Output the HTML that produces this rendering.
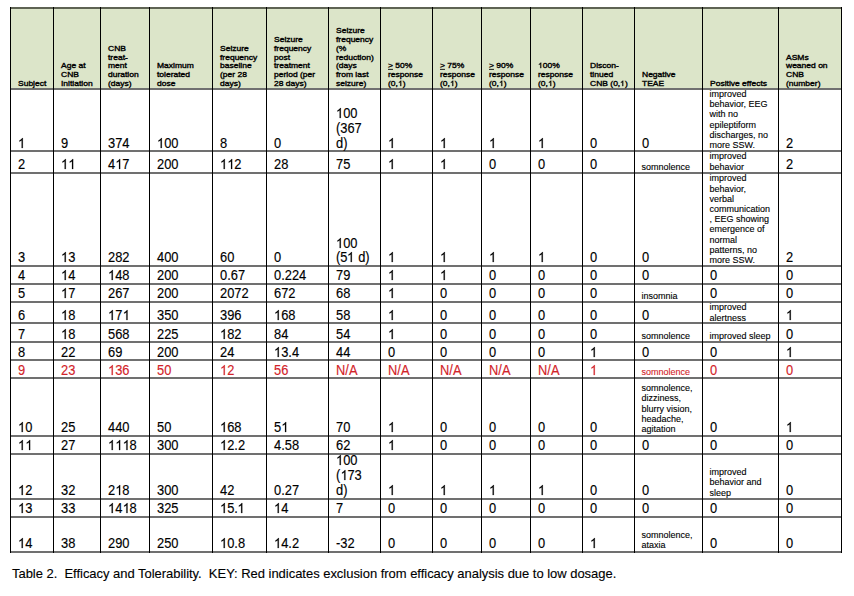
<!DOCTYPE html>
<html><head><meta charset="utf-8"><style>
html,body{margin:0;padding:0;width:854px;height:596px;overflow:hidden;background:#fff}
body{position:relative;font-family:"Liberation Sans",sans-serif;color:#000}
.r{position:absolute}
.t{position:absolute;white-space:pre}
.b{transform:scaleX(0.92);transform-origin:0 0;-webkit-text-stroke:0.15px currentColor}
.h{-webkit-text-stroke:0.4px #000;transform:scaleY(0.88);transform-origin:0 7px}
.s{-webkit-text-stroke:0.12px currentColor}
u{text-decoration:underline}
.one{width:0.5562em;height:0.7188em;vertical-align:baseline;fill:currentColor;stroke:currentColor;stroke-width:30;overflow:visible}
.h .one{stroke-width:90}
</style></head><body>
<div class="r" style="left:10px;top:7px;width:832px;height:82px;background:#dce5c9"></div>
<div class="r" style="left:10px;top:7px;width:832px;height:2px;background:#5e6353"></div>
<div class="r" style="left:10px;top:88px;width:832px;height:2px;background:#707070"></div>
<div class="r" style="left:10px;top:150px;width:832px;height:2px;background:#707070"></div>
<div class="r" style="left:10px;top:172px;width:832px;height:2px;background:#707070"></div>
<div class="r" style="left:10px;top:265px;width:832px;height:2px;background:#707070"></div>
<div class="r" style="left:10px;top:283px;width:832px;height:2px;background:#707070"></div>
<div class="r" style="left:10px;top:301px;width:832px;height:2px;background:#707070"></div>
<div class="r" style="left:10px;top:322px;width:832px;height:2px;background:#707070"></div>
<div class="r" style="left:10px;top:341px;width:832px;height:2px;background:#707070"></div>
<div class="r" style="left:10px;top:359px;width:832px;height:2px;background:#707070"></div>
<div class="r" style="left:10px;top:377px;width:832px;height:2px;background:#707070"></div>
<div class="r" style="left:10px;top:435px;width:832px;height:2px;background:#707070"></div>
<div class="r" style="left:10px;top:453px;width:832px;height:2px;background:#707070"></div>
<div class="r" style="left:10px;top:498px;width:832px;height:2px;background:#707070"></div>
<div class="r" style="left:10px;top:516px;width:832px;height:2px;background:#707070"></div>
<div class="r" style="left:10px;top:551px;width:832px;height:2px;background:#707070"></div>
<div class="r" style="left:10px;top:7px;width:1px;height:546px;background:#000"></div>
<div class="r" style="left:53px;top:7px;width:1px;height:546px;background:#000"></div>
<div class="r" style="left:100px;top:7px;width:1px;height:546px;background:#000"></div>
<div class="r" style="left:149px;top:7px;width:1px;height:546px;background:#000"></div>
<div class="r" style="left:212px;top:7px;width:1px;height:546px;background:#000"></div>
<div class="r" style="left:266px;top:7px;width:1px;height:546px;background:#000"></div>
<div class="r" style="left:328px;top:7px;width:1px;height:546px;background:#000"></div>
<div class="r" style="left:380px;top:7px;width:1px;height:546px;background:#000"></div>
<div class="r" style="left:432px;top:7px;width:1px;height:546px;background:#000"></div>
<div class="r" style="left:481px;top:7px;width:1px;height:546px;background:#000"></div>
<div class="r" style="left:530px;top:7px;width:1px;height:546px;background:#000"></div>
<div class="r" style="left:582px;top:7px;width:1px;height:546px;background:#000"></div>
<div class="r" style="left:634px;top:7px;width:1px;height:546px;background:#000"></div>
<div class="r" style="left:702px;top:7px;width:1px;height:546px;background:#000"></div>
<div class="r" style="left:778px;top:7px;width:1px;height:546px;background:#000"></div>
<div class="r" style="left:841px;top:7px;width:1px;height:546px;background:#000"></div>
<div class="t h" style="left:18px;top:79px;font-size:8.5px;line-height:9px">Subject</div>
<div class="t h" style="left:61px;top:61px;font-size:8.5px;line-height:9px">Age at</div>
<div class="t h" style="left:61px;top:70px;font-size:8.5px;line-height:9px">CNB</div>
<div class="t h" style="left:61px;top:79px;font-size:8.5px;line-height:9px">Initiation</div>
<div class="t h" style="left:108px;top:44px;font-size:8.5px;line-height:9px">CNB</div>
<div class="t h" style="left:108px;top:53px;font-size:8.5px;line-height:9px">treat-</div>
<div class="t h" style="left:108px;top:61px;font-size:8.5px;line-height:9px">ment</div>
<div class="t h" style="left:108px;top:70px;font-size:8.5px;line-height:9px">duration</div>
<div class="t h" style="left:108px;top:79px;font-size:8.5px;line-height:9px">(days)</div>
<div class="t h" style="left:157px;top:61px;font-size:8.5px;line-height:9px">Maximum</div>
<div class="t h" style="left:157px;top:70px;font-size:8.5px;line-height:9px">tolerated</div>
<div class="t h" style="left:157px;top:79px;font-size:8.5px;line-height:9px">dose</div>
<div class="t h" style="left:220px;top:44px;font-size:8.5px;line-height:9px">Seizure</div>
<div class="t h" style="left:220px;top:53px;font-size:8.5px;line-height:9px">frequency</div>
<div class="t h" style="left:220px;top:61px;font-size:8.5px;line-height:9px">baseline</div>
<div class="t h" style="left:220px;top:70px;font-size:8.5px;line-height:9px">(per 28</div>
<div class="t h" style="left:220px;top:79px;font-size:8.5px;line-height:9px">days)</div>
<div class="t h" style="left:274px;top:35px;font-size:8.5px;line-height:9px">Seizure</div>
<div class="t h" style="left:274px;top:44px;font-size:8.5px;line-height:9px">frequency</div>
<div class="t h" style="left:274px;top:53px;font-size:8.5px;line-height:9px">post</div>
<div class="t h" style="left:274px;top:61px;font-size:8.5px;line-height:9px">treatment</div>
<div class="t h" style="left:274px;top:70px;font-size:8.5px;line-height:9px">period (per</div>
<div class="t h" style="left:274px;top:79px;font-size:8.5px;line-height:9px">28 days)</div>
<div class="t h" style="left:336px;top:26px;font-size:8.5px;line-height:9px">Seizure</div>
<div class="t h" style="left:336px;top:35px;font-size:8.5px;line-height:9px">frequency</div>
<div class="t h" style="left:336px;top:44px;font-size:8.5px;line-height:9px">(%</div>
<div class="t h" style="left:336px;top:53px;font-size:8.5px;line-height:9px">reduction)</div>
<div class="t h" style="left:336px;top:61px;font-size:8.5px;line-height:9px">(days</div>
<div class="t h" style="left:336px;top:70px;font-size:8.5px;line-height:9px">from last</div>
<div class="t h" style="left:336px;top:79px;font-size:8.5px;line-height:9px">seizure)</div>
<div class="t h" style="left:388px;top:61px;font-size:8.5px;line-height:9px"><u>&gt;</u> 50%</div>
<div class="t h" style="left:388px;top:70px;font-size:8.5px;line-height:9px">response</div>
<div class="t h" style="left:388px;top:79px;font-size:8.5px;line-height:9px">(0,<svg class="one" viewBox="0 -1472 1139 1472"><path d="M763 0L583 0L583-1147Q518-1085 413-1024Q308-963 223-934L223-1108Q375-1179 495-1280Q615-1381 665-1472L763-1472Z"/></svg>)</div>
<div class="t h" style="left:440px;top:61px;font-size:8.5px;line-height:9px"><u>&gt;</u> 75%</div>
<div class="t h" style="left:440px;top:70px;font-size:8.5px;line-height:9px">response</div>
<div class="t h" style="left:440px;top:79px;font-size:8.5px;line-height:9px">(0,<svg class="one" viewBox="0 -1472 1139 1472"><path d="M763 0L583 0L583-1147Q518-1085 413-1024Q308-963 223-934L223-1108Q375-1179 495-1280Q615-1381 665-1472L763-1472Z"/></svg>)</div>
<div class="t h" style="left:489px;top:61px;font-size:8.5px;line-height:9px"><u>&gt;</u> 90%</div>
<div class="t h" style="left:489px;top:70px;font-size:8.5px;line-height:9px">response</div>
<div class="t h" style="left:489px;top:79px;font-size:8.5px;line-height:9px">(0,<svg class="one" viewBox="0 -1472 1139 1472"><path d="M763 0L583 0L583-1147Q518-1085 413-1024Q308-963 223-934L223-1108Q375-1179 495-1280Q615-1381 665-1472L763-1472Z"/></svg>)</div>
<div class="t h" style="left:538px;top:61px;font-size:8.5px;line-height:9px"><svg class="one" viewBox="0 -1472 1139 1472"><path d="M763 0L583 0L583-1147Q518-1085 413-1024Q308-963 223-934L223-1108Q375-1179 495-1280Q615-1381 665-1472L763-1472Z"/></svg>00%</div>
<div class="t h" style="left:538px;top:70px;font-size:8.5px;line-height:9px">response</div>
<div class="t h" style="left:538px;top:79px;font-size:8.5px;line-height:9px">(0,<svg class="one" viewBox="0 -1472 1139 1472"><path d="M763 0L583 0L583-1147Q518-1085 413-1024Q308-963 223-934L223-1108Q375-1179 495-1280Q615-1381 665-1472L763-1472Z"/></svg>)</div>
<div class="t h" style="left:590px;top:61px;font-size:8.5px;line-height:9px">Discon-</div>
<div class="t h" style="left:590px;top:70px;font-size:8.5px;line-height:9px">tinued</div>
<div class="t h" style="left:590px;top:79px;font-size:8.5px;line-height:9px">CNB (0,<svg class="one" viewBox="0 -1472 1139 1472"><path d="M763 0L583 0L583-1147Q518-1085 413-1024Q308-963 223-934L223-1108Q375-1179 495-1280Q615-1381 665-1472L763-1472Z"/></svg>)</div>
<div class="t h" style="left:642px;top:70px;font-size:8.5px;line-height:9px">Negative</div>
<div class="t h" style="left:642px;top:79px;font-size:8.5px;line-height:9px">TEAE</div>
<div class="t h" style="left:710px;top:79px;font-size:8.5px;line-height:9px">Positive effects</div>
<div class="t h" style="left:786px;top:53px;font-size:8.5px;line-height:9px">ASMs</div>
<div class="t h" style="left:786px;top:61px;font-size:8.5px;line-height:9px">weaned on</div>
<div class="t h" style="left:786px;top:70px;font-size:8.5px;line-height:9px">CNB</div>
<div class="t h" style="left:786px;top:79px;font-size:8.5px;line-height:9px">(number)</div>
<div class="t b" style="left:17.5px;top:136px;font-size:14px;line-height:15px"><svg class="one" viewBox="0 -1472 1139 1472"><path d="M763 0L583 0L583-1147Q518-1085 413-1024Q308-963 223-934L223-1108Q375-1179 495-1280Q615-1381 665-1472L763-1472Z"/></svg></div>
<div class="t b" style="left:60.5px;top:136px;font-size:14px;line-height:15px">9</div>
<div class="t b" style="left:107.5px;top:136px;font-size:14px;line-height:15px">374</div>
<div class="t b" style="left:156.5px;top:136px;font-size:14px;line-height:15px"><svg class="one" viewBox="0 -1472 1139 1472"><path d="M763 0L583 0L583-1147Q518-1085 413-1024Q308-963 223-934L223-1108Q375-1179 495-1280Q615-1381 665-1472L763-1472Z"/></svg>00</div>
<div class="t b" style="left:219.5px;top:136px;font-size:14px;line-height:15px">8</div>
<div class="t b" style="left:273.5px;top:136px;font-size:14px;line-height:15px">0</div>
<div class="t b" style="left:335.5px;top:106px;font-size:14px;line-height:15px"><svg class="one" viewBox="0 -1472 1139 1472"><path d="M763 0L583 0L583-1147Q518-1085 413-1024Q308-963 223-934L223-1108Q375-1179 495-1280Q615-1381 665-1472L763-1472Z"/></svg>00</div>
<div class="t b" style="left:335.5px;top:121px;font-size:14px;line-height:15px">(367</div>
<div class="t b" style="left:335.5px;top:136px;font-size:14px;line-height:15px">d)</div>
<div class="t b" style="left:387.5px;top:136px;font-size:14px;line-height:15px"><svg class="one" viewBox="0 -1472 1139 1472"><path d="M763 0L583 0L583-1147Q518-1085 413-1024Q308-963 223-934L223-1108Q375-1179 495-1280Q615-1381 665-1472L763-1472Z"/></svg></div>
<div class="t b" style="left:439.5px;top:136px;font-size:14px;line-height:15px"><svg class="one" viewBox="0 -1472 1139 1472"><path d="M763 0L583 0L583-1147Q518-1085 413-1024Q308-963 223-934L223-1108Q375-1179 495-1280Q615-1381 665-1472L763-1472Z"/></svg></div>
<div class="t b" style="left:488.5px;top:136px;font-size:14px;line-height:15px"><svg class="one" viewBox="0 -1472 1139 1472"><path d="M763 0L583 0L583-1147Q518-1085 413-1024Q308-963 223-934L223-1108Q375-1179 495-1280Q615-1381 665-1472L763-1472Z"/></svg></div>
<div class="t b" style="left:537.5px;top:136px;font-size:14px;line-height:15px"><svg class="one" viewBox="0 -1472 1139 1472"><path d="M763 0L583 0L583-1147Q518-1085 413-1024Q308-963 223-934L223-1108Q375-1179 495-1280Q615-1381 665-1472L763-1472Z"/></svg></div>
<div class="t b" style="left:589.5px;top:136px;font-size:14px;line-height:15px">0</div>
<div class="t b" style="left:641.5px;top:136px;font-size:14px;line-height:15px">0</div>
<div class="t s" style="left:709.5px;top:89px;font-size:9px;line-height:10px">improved</div>
<div class="t s" style="left:709.5px;top:99px;font-size:9px;line-height:10px">behavior, EEG</div>
<div class="t s" style="left:709.5px;top:109px;font-size:9px;line-height:10px">with no</div>
<div class="t s" style="left:709.5px;top:120px;font-size:9px;line-height:10px">epileptiform</div>
<div class="t s" style="left:709.5px;top:130px;font-size:9px;line-height:10px">discharges, no</div>
<div class="t s" style="left:709.5px;top:140px;font-size:9px;line-height:10px">more SSW.</div>
<div class="t b" style="left:785.5px;top:136px;font-size:14px;line-height:15px">2</div>
<div class="t b" style="left:17.5px;top:157px;font-size:14px;line-height:15px">2</div>
<div class="t b" style="left:60.5px;top:157px;font-size:14px;line-height:15px"><svg class="one" viewBox="0 -1472 1139 1472"><path d="M763 0L583 0L583-1147Q518-1085 413-1024Q308-963 223-934L223-1108Q375-1179 495-1280Q615-1381 665-1472L763-1472Z"/></svg><svg class="one" viewBox="0 -1472 1139 1472"><path d="M763 0L583 0L583-1147Q518-1085 413-1024Q308-963 223-934L223-1108Q375-1179 495-1280Q615-1381 665-1472L763-1472Z"/></svg></div>
<div class="t b" style="left:107.5px;top:157px;font-size:14px;line-height:15px">4<svg class="one" viewBox="0 -1472 1139 1472"><path d="M763 0L583 0L583-1147Q518-1085 413-1024Q308-963 223-934L223-1108Q375-1179 495-1280Q615-1381 665-1472L763-1472Z"/></svg>7</div>
<div class="t b" style="left:156.5px;top:157px;font-size:14px;line-height:15px">200</div>
<div class="t b" style="left:219.5px;top:157px;font-size:14px;line-height:15px"><svg class="one" viewBox="0 -1472 1139 1472"><path d="M763 0L583 0L583-1147Q518-1085 413-1024Q308-963 223-934L223-1108Q375-1179 495-1280Q615-1381 665-1472L763-1472Z"/></svg><svg class="one" viewBox="0 -1472 1139 1472"><path d="M763 0L583 0L583-1147Q518-1085 413-1024Q308-963 223-934L223-1108Q375-1179 495-1280Q615-1381 665-1472L763-1472Z"/></svg>2</div>
<div class="t b" style="left:273.5px;top:157px;font-size:14px;line-height:15px">28</div>
<div class="t b" style="left:335.5px;top:157px;font-size:14px;line-height:15px">75</div>
<div class="t b" style="left:387.5px;top:157px;font-size:14px;line-height:15px"><svg class="one" viewBox="0 -1472 1139 1472"><path d="M763 0L583 0L583-1147Q518-1085 413-1024Q308-963 223-934L223-1108Q375-1179 495-1280Q615-1381 665-1472L763-1472Z"/></svg></div>
<div class="t b" style="left:439.5px;top:157px;font-size:14px;line-height:15px"><svg class="one" viewBox="0 -1472 1139 1472"><path d="M763 0L583 0L583-1147Q518-1085 413-1024Q308-963 223-934L223-1108Q375-1179 495-1280Q615-1381 665-1472L763-1472Z"/></svg></div>
<div class="t b" style="left:488.5px;top:157px;font-size:14px;line-height:15px">0</div>
<div class="t b" style="left:537.5px;top:157px;font-size:14px;line-height:15px">0</div>
<div class="t b" style="left:589.5px;top:157px;font-size:14px;line-height:15px">0</div>
<div class="t s" style="left:641.5px;top:162px;font-size:9px;line-height:10px">somnolence</div>
<div class="t s" style="left:709.5px;top:151px;font-size:9px;line-height:10px">improved</div>
<div class="t s" style="left:709.5px;top:162px;font-size:9px;line-height:10px">behavior</div>
<div class="t b" style="left:785.5px;top:157px;font-size:14px;line-height:15px">2</div>
<div class="t b" style="left:17.5px;top:250px;font-size:14px;line-height:15px">3</div>
<div class="t b" style="left:60.5px;top:250px;font-size:14px;line-height:15px"><svg class="one" viewBox="0 -1472 1139 1472"><path d="M763 0L583 0L583-1147Q518-1085 413-1024Q308-963 223-934L223-1108Q375-1179 495-1280Q615-1381 665-1472L763-1472Z"/></svg>3</div>
<div class="t b" style="left:107.5px;top:250px;font-size:14px;line-height:15px">282</div>
<div class="t b" style="left:156.5px;top:250px;font-size:14px;line-height:15px">400</div>
<div class="t b" style="left:219.5px;top:250px;font-size:14px;line-height:15px">60</div>
<div class="t b" style="left:273.5px;top:250px;font-size:14px;line-height:15px">0</div>
<div class="t b" style="left:335.5px;top:236px;font-size:14px;line-height:15px"><svg class="one" viewBox="0 -1472 1139 1472"><path d="M763 0L583 0L583-1147Q518-1085 413-1024Q308-963 223-934L223-1108Q375-1179 495-1280Q615-1381 665-1472L763-1472Z"/></svg>00</div>
<div class="t b" style="left:335.5px;top:250px;font-size:14px;line-height:15px">(5<svg class="one" viewBox="0 -1472 1139 1472"><path d="M763 0L583 0L583-1147Q518-1085 413-1024Q308-963 223-934L223-1108Q375-1179 495-1280Q615-1381 665-1472L763-1472Z"/></svg> d)</div>
<div class="t b" style="left:387.5px;top:250px;font-size:14px;line-height:15px"><svg class="one" viewBox="0 -1472 1139 1472"><path d="M763 0L583 0L583-1147Q518-1085 413-1024Q308-963 223-934L223-1108Q375-1179 495-1280Q615-1381 665-1472L763-1472Z"/></svg></div>
<div class="t b" style="left:439.5px;top:250px;font-size:14px;line-height:15px"><svg class="one" viewBox="0 -1472 1139 1472"><path d="M763 0L583 0L583-1147Q518-1085 413-1024Q308-963 223-934L223-1108Q375-1179 495-1280Q615-1381 665-1472L763-1472Z"/></svg></div>
<div class="t b" style="left:488.5px;top:250px;font-size:14px;line-height:15px"><svg class="one" viewBox="0 -1472 1139 1472"><path d="M763 0L583 0L583-1147Q518-1085 413-1024Q308-963 223-934L223-1108Q375-1179 495-1280Q615-1381 665-1472L763-1472Z"/></svg></div>
<div class="t b" style="left:537.5px;top:250px;font-size:14px;line-height:15px"><svg class="one" viewBox="0 -1472 1139 1472"><path d="M763 0L583 0L583-1147Q518-1085 413-1024Q308-963 223-934L223-1108Q375-1179 495-1280Q615-1381 665-1472L763-1472Z"/></svg></div>
<div class="t b" style="left:589.5px;top:250px;font-size:14px;line-height:15px">0</div>
<div class="t b" style="left:641.5px;top:250px;font-size:14px;line-height:15px">0</div>
<div class="t s" style="left:709.5px;top:173px;font-size:9px;line-height:10px">improved</div>
<div class="t s" style="left:709.5px;top:184px;font-size:9px;line-height:10px">behavior,</div>
<div class="t s" style="left:709.5px;top:194px;font-size:9px;line-height:10px">verbal</div>
<div class="t s" style="left:709.5px;top:204px;font-size:9px;line-height:10px">communication</div>
<div class="t s" style="left:709.5px;top:214px;font-size:9px;line-height:10px">, EEG showing</div>
<div class="t s" style="left:709.5px;top:224px;font-size:9px;line-height:10px">emergence of</div>
<div class="t s" style="left:709.5px;top:235px;font-size:9px;line-height:10px">normal</div>
<div class="t s" style="left:709.5px;top:245px;font-size:9px;line-height:10px">patterns, no</div>
<div class="t s" style="left:709.5px;top:255px;font-size:9px;line-height:10px">more SSW.</div>
<div class="t b" style="left:785.5px;top:250px;font-size:14px;line-height:15px">2</div>
<div class="t b" style="left:17.5px;top:268px;font-size:14px;line-height:15px">4</div>
<div class="t b" style="left:60.5px;top:268px;font-size:14px;line-height:15px"><svg class="one" viewBox="0 -1472 1139 1472"><path d="M763 0L583 0L583-1147Q518-1085 413-1024Q308-963 223-934L223-1108Q375-1179 495-1280Q615-1381 665-1472L763-1472Z"/></svg>4</div>
<div class="t b" style="left:107.5px;top:268px;font-size:14px;line-height:15px"><svg class="one" viewBox="0 -1472 1139 1472"><path d="M763 0L583 0L583-1147Q518-1085 413-1024Q308-963 223-934L223-1108Q375-1179 495-1280Q615-1381 665-1472L763-1472Z"/></svg>48</div>
<div class="t b" style="left:156.5px;top:268px;font-size:14px;line-height:15px">200</div>
<div class="t b" style="left:219.5px;top:268px;font-size:14px;line-height:15px">0.67</div>
<div class="t b" style="left:273.5px;top:268px;font-size:14px;line-height:15px">0.224</div>
<div class="t b" style="left:335.5px;top:268px;font-size:14px;line-height:15px">79</div>
<div class="t b" style="left:387.5px;top:268px;font-size:14px;line-height:15px"><svg class="one" viewBox="0 -1472 1139 1472"><path d="M763 0L583 0L583-1147Q518-1085 413-1024Q308-963 223-934L223-1108Q375-1179 495-1280Q615-1381 665-1472L763-1472Z"/></svg></div>
<div class="t b" style="left:439.5px;top:268px;font-size:14px;line-height:15px"><svg class="one" viewBox="0 -1472 1139 1472"><path d="M763 0L583 0L583-1147Q518-1085 413-1024Q308-963 223-934L223-1108Q375-1179 495-1280Q615-1381 665-1472L763-1472Z"/></svg></div>
<div class="t b" style="left:488.5px;top:268px;font-size:14px;line-height:15px">0</div>
<div class="t b" style="left:537.5px;top:268px;font-size:14px;line-height:15px">0</div>
<div class="t b" style="left:589.5px;top:268px;font-size:14px;line-height:15px">0</div>
<div class="t b" style="left:641.5px;top:268px;font-size:14px;line-height:15px">0</div>
<div class="t b" style="left:709.5px;top:268px;font-size:14px;line-height:15px">0</div>
<div class="t b" style="left:785.5px;top:268px;font-size:14px;line-height:15px">0</div>
<div class="t b" style="left:17.5px;top:286px;font-size:14px;line-height:15px">5</div>
<div class="t b" style="left:60.5px;top:286px;font-size:14px;line-height:15px"><svg class="one" viewBox="0 -1472 1139 1472"><path d="M763 0L583 0L583-1147Q518-1085 413-1024Q308-963 223-934L223-1108Q375-1179 495-1280Q615-1381 665-1472L763-1472Z"/></svg>7</div>
<div class="t b" style="left:107.5px;top:286px;font-size:14px;line-height:15px">267</div>
<div class="t b" style="left:156.5px;top:286px;font-size:14px;line-height:15px">200</div>
<div class="t b" style="left:219.5px;top:286px;font-size:14px;line-height:15px">2072</div>
<div class="t b" style="left:273.5px;top:286px;font-size:14px;line-height:15px">672</div>
<div class="t b" style="left:335.5px;top:286px;font-size:14px;line-height:15px">68</div>
<div class="t b" style="left:387.5px;top:286px;font-size:14px;line-height:15px"><svg class="one" viewBox="0 -1472 1139 1472"><path d="M763 0L583 0L583-1147Q518-1085 413-1024Q308-963 223-934L223-1108Q375-1179 495-1280Q615-1381 665-1472L763-1472Z"/></svg></div>
<div class="t b" style="left:439.5px;top:286px;font-size:14px;line-height:15px">0</div>
<div class="t b" style="left:488.5px;top:286px;font-size:14px;line-height:15px">0</div>
<div class="t b" style="left:537.5px;top:286px;font-size:14px;line-height:15px">0</div>
<div class="t b" style="left:589.5px;top:286px;font-size:14px;line-height:15px">0</div>
<div class="t s" style="left:641.5px;top:291px;font-size:9px;line-height:10px">insomnia</div>
<div class="t b" style="left:709.5px;top:286px;font-size:14px;line-height:15px">0</div>
<div class="t b" style="left:785.5px;top:286px;font-size:14px;line-height:15px">0</div>
<div class="t b" style="left:17.5px;top:308px;font-size:14px;line-height:15px">6</div>
<div class="t b" style="left:60.5px;top:308px;font-size:14px;line-height:15px"><svg class="one" viewBox="0 -1472 1139 1472"><path d="M763 0L583 0L583-1147Q518-1085 413-1024Q308-963 223-934L223-1108Q375-1179 495-1280Q615-1381 665-1472L763-1472Z"/></svg>8</div>
<div class="t b" style="left:107.5px;top:308px;font-size:14px;line-height:15px"><svg class="one" viewBox="0 -1472 1139 1472"><path d="M763 0L583 0L583-1147Q518-1085 413-1024Q308-963 223-934L223-1108Q375-1179 495-1280Q615-1381 665-1472L763-1472Z"/></svg>7<svg class="one" viewBox="0 -1472 1139 1472"><path d="M763 0L583 0L583-1147Q518-1085 413-1024Q308-963 223-934L223-1108Q375-1179 495-1280Q615-1381 665-1472L763-1472Z"/></svg></div>
<div class="t b" style="left:156.5px;top:308px;font-size:14px;line-height:15px">350</div>
<div class="t b" style="left:219.5px;top:308px;font-size:14px;line-height:15px">396</div>
<div class="t b" style="left:273.5px;top:308px;font-size:14px;line-height:15px"><svg class="one" viewBox="0 -1472 1139 1472"><path d="M763 0L583 0L583-1147Q518-1085 413-1024Q308-963 223-934L223-1108Q375-1179 495-1280Q615-1381 665-1472L763-1472Z"/></svg>68</div>
<div class="t b" style="left:335.5px;top:308px;font-size:14px;line-height:15px">58</div>
<div class="t b" style="left:387.5px;top:308px;font-size:14px;line-height:15px"><svg class="one" viewBox="0 -1472 1139 1472"><path d="M763 0L583 0L583-1147Q518-1085 413-1024Q308-963 223-934L223-1108Q375-1179 495-1280Q615-1381 665-1472L763-1472Z"/></svg></div>
<div class="t b" style="left:439.5px;top:308px;font-size:14px;line-height:15px">0</div>
<div class="t b" style="left:488.5px;top:308px;font-size:14px;line-height:15px">0</div>
<div class="t b" style="left:537.5px;top:308px;font-size:14px;line-height:15px">0</div>
<div class="t b" style="left:589.5px;top:308px;font-size:14px;line-height:15px">0</div>
<div class="t b" style="left:641.5px;top:308px;font-size:14px;line-height:15px">0</div>
<div class="t s" style="left:709.5px;top:302px;font-size:9px;line-height:10px">improved</div>
<div class="t s" style="left:709.5px;top:313px;font-size:9px;line-height:10px">alertness</div>
<div class="t b" style="left:785.5px;top:308px;font-size:14px;line-height:15px"><svg class="one" viewBox="0 -1472 1139 1472"><path d="M763 0L583 0L583-1147Q518-1085 413-1024Q308-963 223-934L223-1108Q375-1179 495-1280Q615-1381 665-1472L763-1472Z"/></svg></div>
<div class="t b" style="left:17.5px;top:327px;font-size:14px;line-height:15px">7</div>
<div class="t b" style="left:60.5px;top:327px;font-size:14px;line-height:15px"><svg class="one" viewBox="0 -1472 1139 1472"><path d="M763 0L583 0L583-1147Q518-1085 413-1024Q308-963 223-934L223-1108Q375-1179 495-1280Q615-1381 665-1472L763-1472Z"/></svg>8</div>
<div class="t b" style="left:107.5px;top:327px;font-size:14px;line-height:15px">568</div>
<div class="t b" style="left:156.5px;top:327px;font-size:14px;line-height:15px">225</div>
<div class="t b" style="left:219.5px;top:327px;font-size:14px;line-height:15px"><svg class="one" viewBox="0 -1472 1139 1472"><path d="M763 0L583 0L583-1147Q518-1085 413-1024Q308-963 223-934L223-1108Q375-1179 495-1280Q615-1381 665-1472L763-1472Z"/></svg>82</div>
<div class="t b" style="left:273.5px;top:327px;font-size:14px;line-height:15px">84</div>
<div class="t b" style="left:335.5px;top:327px;font-size:14px;line-height:15px">54</div>
<div class="t b" style="left:387.5px;top:327px;font-size:14px;line-height:15px"><svg class="one" viewBox="0 -1472 1139 1472"><path d="M763 0L583 0L583-1147Q518-1085 413-1024Q308-963 223-934L223-1108Q375-1179 495-1280Q615-1381 665-1472L763-1472Z"/></svg></div>
<div class="t b" style="left:439.5px;top:327px;font-size:14px;line-height:15px">0</div>
<div class="t b" style="left:488.5px;top:327px;font-size:14px;line-height:15px">0</div>
<div class="t b" style="left:537.5px;top:327px;font-size:14px;line-height:15px">0</div>
<div class="t b" style="left:589.5px;top:327px;font-size:14px;line-height:15px">0</div>
<div class="t s" style="left:641.5px;top:331px;font-size:9px;line-height:10px">somnolence</div>
<div class="t s" style="left:709.5px;top:331px;font-size:9px;line-height:10px">improved sleep</div>
<div class="t b" style="left:785.5px;top:327px;font-size:14px;line-height:15px">0</div>
<div class="t b" style="left:17.5px;top:345px;font-size:14px;line-height:15px">8</div>
<div class="t b" style="left:60.5px;top:345px;font-size:14px;line-height:15px">22</div>
<div class="t b" style="left:107.5px;top:345px;font-size:14px;line-height:15px">69</div>
<div class="t b" style="left:156.5px;top:345px;font-size:14px;line-height:15px">200</div>
<div class="t b" style="left:219.5px;top:345px;font-size:14px;line-height:15px">24</div>
<div class="t b" style="left:273.5px;top:345px;font-size:14px;line-height:15px"><svg class="one" viewBox="0 -1472 1139 1472"><path d="M763 0L583 0L583-1147Q518-1085 413-1024Q308-963 223-934L223-1108Q375-1179 495-1280Q615-1381 665-1472L763-1472Z"/></svg>3.4</div>
<div class="t b" style="left:335.5px;top:345px;font-size:14px;line-height:15px">44</div>
<div class="t b" style="left:387.5px;top:345px;font-size:14px;line-height:15px">0</div>
<div class="t b" style="left:439.5px;top:345px;font-size:14px;line-height:15px">0</div>
<div class="t b" style="left:488.5px;top:345px;font-size:14px;line-height:15px">0</div>
<div class="t b" style="left:537.5px;top:345px;font-size:14px;line-height:15px">0</div>
<div class="t b" style="left:589.5px;top:345px;font-size:14px;line-height:15px"><svg class="one" viewBox="0 -1472 1139 1472"><path d="M763 0L583 0L583-1147Q518-1085 413-1024Q308-963 223-934L223-1108Q375-1179 495-1280Q615-1381 665-1472L763-1472Z"/></svg></div>
<div class="t b" style="left:641.5px;top:345px;font-size:14px;line-height:15px">0</div>
<div class="t b" style="left:709.5px;top:345px;font-size:14px;line-height:15px">0</div>
<div class="t b" style="left:785.5px;top:345px;font-size:14px;line-height:15px"><svg class="one" viewBox="0 -1472 1139 1472"><path d="M763 0L583 0L583-1147Q518-1085 413-1024Q308-963 223-934L223-1108Q375-1179 495-1280Q615-1381 665-1472L763-1472Z"/></svg></div>
<div class="t b" style="left:17.5px;top:363px;font-size:14px;line-height:15px;color:#d2232a">9</div>
<div class="t b" style="left:60.5px;top:363px;font-size:14px;line-height:15px;color:#d2232a">23</div>
<div class="t b" style="left:107.5px;top:363px;font-size:14px;line-height:15px;color:#d2232a"><svg class="one" viewBox="0 -1472 1139 1472"><path d="M763 0L583 0L583-1147Q518-1085 413-1024Q308-963 223-934L223-1108Q375-1179 495-1280Q615-1381 665-1472L763-1472Z"/></svg>36</div>
<div class="t b" style="left:156.5px;top:363px;font-size:14px;line-height:15px;color:#d2232a">50</div>
<div class="t b" style="left:219.5px;top:363px;font-size:14px;line-height:15px;color:#d2232a"><svg class="one" viewBox="0 -1472 1139 1472"><path d="M763 0L583 0L583-1147Q518-1085 413-1024Q308-963 223-934L223-1108Q375-1179 495-1280Q615-1381 665-1472L763-1472Z"/></svg>2</div>
<div class="t b" style="left:273.5px;top:363px;font-size:14px;line-height:15px;color:#d2232a">56</div>
<div class="t b" style="left:335.5px;top:363px;font-size:14px;line-height:15px;color:#d2232a">N/A</div>
<div class="t b" style="left:387.5px;top:363px;font-size:14px;line-height:15px;color:#d2232a">N/A</div>
<div class="t b" style="left:439.5px;top:363px;font-size:14px;line-height:15px;color:#d2232a">N/A</div>
<div class="t b" style="left:488.5px;top:363px;font-size:14px;line-height:15px;color:#d2232a">N/A</div>
<div class="t b" style="left:537.5px;top:363px;font-size:14px;line-height:15px;color:#d2232a">N/A</div>
<div class="t b" style="left:589.5px;top:363px;font-size:14px;line-height:15px;color:#d2232a"><svg class="one" viewBox="0 -1472 1139 1472"><path d="M763 0L583 0L583-1147Q518-1085 413-1024Q308-963 223-934L223-1108Q375-1179 495-1280Q615-1381 665-1472L763-1472Z"/></svg></div>
<div class="t s" style="left:641.5px;top:367px;font-size:9px;line-height:10px;color:#d2232a">somnolence</div>
<div class="t b" style="left:709.5px;top:363px;font-size:14px;line-height:15px;color:#d2232a">0</div>
<div class="t b" style="left:785.5px;top:363px;font-size:14px;line-height:15px;color:#d2232a">0</div>
<div class="t b" style="left:17.5px;top:420px;font-size:14px;line-height:15px"><svg class="one" viewBox="0 -1472 1139 1472"><path d="M763 0L583 0L583-1147Q518-1085 413-1024Q308-963 223-934L223-1108Q375-1179 495-1280Q615-1381 665-1472L763-1472Z"/></svg>0</div>
<div class="t b" style="left:60.5px;top:420px;font-size:14px;line-height:15px">25</div>
<div class="t b" style="left:107.5px;top:420px;font-size:14px;line-height:15px">440</div>
<div class="t b" style="left:156.5px;top:420px;font-size:14px;line-height:15px">50</div>
<div class="t b" style="left:219.5px;top:420px;font-size:14px;line-height:15px"><svg class="one" viewBox="0 -1472 1139 1472"><path d="M763 0L583 0L583-1147Q518-1085 413-1024Q308-963 223-934L223-1108Q375-1179 495-1280Q615-1381 665-1472L763-1472Z"/></svg>68</div>
<div class="t b" style="left:273.5px;top:420px;font-size:14px;line-height:15px">5<svg class="one" viewBox="0 -1472 1139 1472"><path d="M763 0L583 0L583-1147Q518-1085 413-1024Q308-963 223-934L223-1108Q375-1179 495-1280Q615-1381 665-1472L763-1472Z"/></svg></div>
<div class="t b" style="left:335.5px;top:420px;font-size:14px;line-height:15px">70</div>
<div class="t b" style="left:387.5px;top:420px;font-size:14px;line-height:15px"><svg class="one" viewBox="0 -1472 1139 1472"><path d="M763 0L583 0L583-1147Q518-1085 413-1024Q308-963 223-934L223-1108Q375-1179 495-1280Q615-1381 665-1472L763-1472Z"/></svg></div>
<div class="t b" style="left:439.5px;top:420px;font-size:14px;line-height:15px">0</div>
<div class="t b" style="left:488.5px;top:420px;font-size:14px;line-height:15px">0</div>
<div class="t b" style="left:537.5px;top:420px;font-size:14px;line-height:15px">0</div>
<div class="t b" style="left:589.5px;top:420px;font-size:14px;line-height:15px">0</div>
<div class="t s" style="left:641.5px;top:383px;font-size:9px;line-height:10px">somnolence,</div>
<div class="t s" style="left:641.5px;top:393px;font-size:9px;line-height:10px">dizziness,</div>
<div class="t s" style="left:641.5px;top:404px;font-size:9px;line-height:10px">blurry vision,</div>
<div class="t s" style="left:641.5px;top:414px;font-size:9px;line-height:10px">headache,</div>
<div class="t s" style="left:641.5px;top:424px;font-size:9px;line-height:10px">agitation</div>
<div class="t b" style="left:709.5px;top:420px;font-size:14px;line-height:15px">0</div>
<div class="t b" style="left:785.5px;top:420px;font-size:14px;line-height:15px"><svg class="one" viewBox="0 -1472 1139 1472"><path d="M763 0L583 0L583-1147Q518-1085 413-1024Q308-963 223-934L223-1108Q375-1179 495-1280Q615-1381 665-1472L763-1472Z"/></svg></div>
<div class="t b" style="left:17.5px;top:438px;font-size:14px;line-height:15px"><svg class="one" viewBox="0 -1472 1139 1472"><path d="M763 0L583 0L583-1147Q518-1085 413-1024Q308-963 223-934L223-1108Q375-1179 495-1280Q615-1381 665-1472L763-1472Z"/></svg><svg class="one" viewBox="0 -1472 1139 1472"><path d="M763 0L583 0L583-1147Q518-1085 413-1024Q308-963 223-934L223-1108Q375-1179 495-1280Q615-1381 665-1472L763-1472Z"/></svg></div>
<div class="t b" style="left:60.5px;top:438px;font-size:14px;line-height:15px">27</div>
<div class="t b" style="left:107.5px;top:438px;font-size:14px;line-height:15px"><svg class="one" viewBox="0 -1472 1139 1472"><path d="M763 0L583 0L583-1147Q518-1085 413-1024Q308-963 223-934L223-1108Q375-1179 495-1280Q615-1381 665-1472L763-1472Z"/></svg><svg class="one" viewBox="0 -1472 1139 1472"><path d="M763 0L583 0L583-1147Q518-1085 413-1024Q308-963 223-934L223-1108Q375-1179 495-1280Q615-1381 665-1472L763-1472Z"/></svg><svg class="one" viewBox="0 -1472 1139 1472"><path d="M763 0L583 0L583-1147Q518-1085 413-1024Q308-963 223-934L223-1108Q375-1179 495-1280Q615-1381 665-1472L763-1472Z"/></svg>8</div>
<div class="t b" style="left:156.5px;top:438px;font-size:14px;line-height:15px">300</div>
<div class="t b" style="left:219.5px;top:438px;font-size:14px;line-height:15px"><svg class="one" viewBox="0 -1472 1139 1472"><path d="M763 0L583 0L583-1147Q518-1085 413-1024Q308-963 223-934L223-1108Q375-1179 495-1280Q615-1381 665-1472L763-1472Z"/></svg>2.2</div>
<div class="t b" style="left:273.5px;top:438px;font-size:14px;line-height:15px">4.58</div>
<div class="t b" style="left:335.5px;top:438px;font-size:14px;line-height:15px">62</div>
<div class="t b" style="left:387.5px;top:438px;font-size:14px;line-height:15px"><svg class="one" viewBox="0 -1472 1139 1472"><path d="M763 0L583 0L583-1147Q518-1085 413-1024Q308-963 223-934L223-1108Q375-1179 495-1280Q615-1381 665-1472L763-1472Z"/></svg></div>
<div class="t b" style="left:439.5px;top:438px;font-size:14px;line-height:15px">0</div>
<div class="t b" style="left:488.5px;top:438px;font-size:14px;line-height:15px">0</div>
<div class="t b" style="left:537.5px;top:438px;font-size:14px;line-height:15px">0</div>
<div class="t b" style="left:589.5px;top:438px;font-size:14px;line-height:15px">0</div>
<div class="t b" style="left:641.5px;top:438px;font-size:14px;line-height:15px">0</div>
<div class="t b" style="left:709.5px;top:438px;font-size:14px;line-height:15px">0</div>
<div class="t b" style="left:785.5px;top:438px;font-size:14px;line-height:15px">0</div>
<div class="t b" style="left:17.5px;top:483px;font-size:14px;line-height:15px"><svg class="one" viewBox="0 -1472 1139 1472"><path d="M763 0L583 0L583-1147Q518-1085 413-1024Q308-963 223-934L223-1108Q375-1179 495-1280Q615-1381 665-1472L763-1472Z"/></svg>2</div>
<div class="t b" style="left:60.5px;top:483px;font-size:14px;line-height:15px">32</div>
<div class="t b" style="left:107.5px;top:483px;font-size:14px;line-height:15px">2<svg class="one" viewBox="0 -1472 1139 1472"><path d="M763 0L583 0L583-1147Q518-1085 413-1024Q308-963 223-934L223-1108Q375-1179 495-1280Q615-1381 665-1472L763-1472Z"/></svg>8</div>
<div class="t b" style="left:156.5px;top:483px;font-size:14px;line-height:15px">300</div>
<div class="t b" style="left:219.5px;top:483px;font-size:14px;line-height:15px">42</div>
<div class="t b" style="left:273.5px;top:483px;font-size:14px;line-height:15px">0.27</div>
<div class="t b" style="left:335.5px;top:453px;font-size:14px;line-height:15px"><svg class="one" viewBox="0 -1472 1139 1472"><path d="M763 0L583 0L583-1147Q518-1085 413-1024Q308-963 223-934L223-1108Q375-1179 495-1280Q615-1381 665-1472L763-1472Z"/></svg>00</div>
<div class="t b" style="left:335.5px;top:468px;font-size:14px;line-height:15px">(<svg class="one" viewBox="0 -1472 1139 1472"><path d="M763 0L583 0L583-1147Q518-1085 413-1024Q308-963 223-934L223-1108Q375-1179 495-1280Q615-1381 665-1472L763-1472Z"/></svg>73</div>
<div class="t b" style="left:335.5px;top:483px;font-size:14px;line-height:15px">d)</div>
<div class="t b" style="left:387.5px;top:483px;font-size:14px;line-height:15px"><svg class="one" viewBox="0 -1472 1139 1472"><path d="M763 0L583 0L583-1147Q518-1085 413-1024Q308-963 223-934L223-1108Q375-1179 495-1280Q615-1381 665-1472L763-1472Z"/></svg></div>
<div class="t b" style="left:439.5px;top:483px;font-size:14px;line-height:15px"><svg class="one" viewBox="0 -1472 1139 1472"><path d="M763 0L583 0L583-1147Q518-1085 413-1024Q308-963 223-934L223-1108Q375-1179 495-1280Q615-1381 665-1472L763-1472Z"/></svg></div>
<div class="t b" style="left:488.5px;top:483px;font-size:14px;line-height:15px"><svg class="one" viewBox="0 -1472 1139 1472"><path d="M763 0L583 0L583-1147Q518-1085 413-1024Q308-963 223-934L223-1108Q375-1179 495-1280Q615-1381 665-1472L763-1472Z"/></svg></div>
<div class="t b" style="left:537.5px;top:483px;font-size:14px;line-height:15px"><svg class="one" viewBox="0 -1472 1139 1472"><path d="M763 0L583 0L583-1147Q518-1085 413-1024Q308-963 223-934L223-1108Q375-1179 495-1280Q615-1381 665-1472L763-1472Z"/></svg></div>
<div class="t b" style="left:589.5px;top:483px;font-size:14px;line-height:15px">0</div>
<div class="t b" style="left:641.5px;top:483px;font-size:14px;line-height:15px">0</div>
<div class="t s" style="left:709.5px;top:467px;font-size:9px;line-height:10px">improved</div>
<div class="t s" style="left:709.5px;top:477px;font-size:9px;line-height:10px">behavior and</div>
<div class="t s" style="left:709.5px;top:488px;font-size:9px;line-height:10px">sleep</div>
<div class="t b" style="left:785.5px;top:483px;font-size:14px;line-height:15px">0</div>
<div class="t b" style="left:17.5px;top:501px;font-size:14px;line-height:15px"><svg class="one" viewBox="0 -1472 1139 1472"><path d="M763 0L583 0L583-1147Q518-1085 413-1024Q308-963 223-934L223-1108Q375-1179 495-1280Q615-1381 665-1472L763-1472Z"/></svg>3</div>
<div class="t b" style="left:60.5px;top:501px;font-size:14px;line-height:15px">33</div>
<div class="t b" style="left:107.5px;top:501px;font-size:14px;line-height:15px"><svg class="one" viewBox="0 -1472 1139 1472"><path d="M763 0L583 0L583-1147Q518-1085 413-1024Q308-963 223-934L223-1108Q375-1179 495-1280Q615-1381 665-1472L763-1472Z"/></svg>4<svg class="one" viewBox="0 -1472 1139 1472"><path d="M763 0L583 0L583-1147Q518-1085 413-1024Q308-963 223-934L223-1108Q375-1179 495-1280Q615-1381 665-1472L763-1472Z"/></svg>8</div>
<div class="t b" style="left:156.5px;top:501px;font-size:14px;line-height:15px">325</div>
<div class="t b" style="left:219.5px;top:501px;font-size:14px;line-height:15px"><svg class="one" viewBox="0 -1472 1139 1472"><path d="M763 0L583 0L583-1147Q518-1085 413-1024Q308-963 223-934L223-1108Q375-1179 495-1280Q615-1381 665-1472L763-1472Z"/></svg>5.<svg class="one" viewBox="0 -1472 1139 1472"><path d="M763 0L583 0L583-1147Q518-1085 413-1024Q308-963 223-934L223-1108Q375-1179 495-1280Q615-1381 665-1472L763-1472Z"/></svg></div>
<div class="t b" style="left:273.5px;top:501px;font-size:14px;line-height:15px"><svg class="one" viewBox="0 -1472 1139 1472"><path d="M763 0L583 0L583-1147Q518-1085 413-1024Q308-963 223-934L223-1108Q375-1179 495-1280Q615-1381 665-1472L763-1472Z"/></svg>4</div>
<div class="t b" style="left:335.5px;top:501px;font-size:14px;line-height:15px">7</div>
<div class="t b" style="left:387.5px;top:501px;font-size:14px;line-height:15px">0</div>
<div class="t b" style="left:439.5px;top:501px;font-size:14px;line-height:15px">0</div>
<div class="t b" style="left:488.5px;top:501px;font-size:14px;line-height:15px">0</div>
<div class="t b" style="left:537.5px;top:501px;font-size:14px;line-height:15px">0</div>
<div class="t b" style="left:589.5px;top:501px;font-size:14px;line-height:15px">0</div>
<div class="t b" style="left:641.5px;top:501px;font-size:14px;line-height:15px">0</div>
<div class="t b" style="left:709.5px;top:501px;font-size:14px;line-height:15px">0</div>
<div class="t b" style="left:785.5px;top:501px;font-size:14px;line-height:15px">0</div>
<div class="t b" style="left:17.5px;top:536px;font-size:14px;line-height:15px"><svg class="one" viewBox="0 -1472 1139 1472"><path d="M763 0L583 0L583-1147Q518-1085 413-1024Q308-963 223-934L223-1108Q375-1179 495-1280Q615-1381 665-1472L763-1472Z"/></svg>4</div>
<div class="t b" style="left:60.5px;top:536px;font-size:14px;line-height:15px">38</div>
<div class="t b" style="left:107.5px;top:536px;font-size:14px;line-height:15px">290</div>
<div class="t b" style="left:156.5px;top:536px;font-size:14px;line-height:15px">250</div>
<div class="t b" style="left:219.5px;top:536px;font-size:14px;line-height:15px"><svg class="one" viewBox="0 -1472 1139 1472"><path d="M763 0L583 0L583-1147Q518-1085 413-1024Q308-963 223-934L223-1108Q375-1179 495-1280Q615-1381 665-1472L763-1472Z"/></svg>0.8</div>
<div class="t b" style="left:273.5px;top:536px;font-size:14px;line-height:15px"><svg class="one" viewBox="0 -1472 1139 1472"><path d="M763 0L583 0L583-1147Q518-1085 413-1024Q308-963 223-934L223-1108Q375-1179 495-1280Q615-1381 665-1472L763-1472Z"/></svg>4.2</div>
<div class="t b" style="left:335.5px;top:536px;font-size:14px;line-height:15px">-32</div>
<div class="t b" style="left:387.5px;top:536px;font-size:14px;line-height:15px">0</div>
<div class="t b" style="left:439.5px;top:536px;font-size:14px;line-height:15px">0</div>
<div class="t b" style="left:488.5px;top:536px;font-size:14px;line-height:15px">0</div>
<div class="t b" style="left:537.5px;top:536px;font-size:14px;line-height:15px">0</div>
<div class="t b" style="left:589.5px;top:536px;font-size:14px;line-height:15px"><svg class="one" viewBox="0 -1472 1139 1472"><path d="M763 0L583 0L583-1147Q518-1085 413-1024Q308-963 223-934L223-1108Q375-1179 495-1280Q615-1381 665-1472L763-1472Z"/></svg></div>
<div class="t s" style="left:641.5px;top:530px;font-size:9px;line-height:10px">somnolence,</div>
<div class="t s" style="left:641.5px;top:540px;font-size:9px;line-height:10px">ataxia</div>
<div class="t b" style="left:709.5px;top:536px;font-size:14px;line-height:15px">0</div>
<div class="t b" style="left:785.5px;top:536px;font-size:14px;line-height:15px">0</div>
<div class="t" style="left:12px;top:566px;font-size:13px;line-height:15px;letter-spacing:-0.03px;-webkit-text-stroke:0.12px #000">Table 2.&nbsp; Efficacy and Tolerability.&nbsp; KEY: Red indicates exclusion from efficacy analysis due to low dosage.</div>
</body></html>
